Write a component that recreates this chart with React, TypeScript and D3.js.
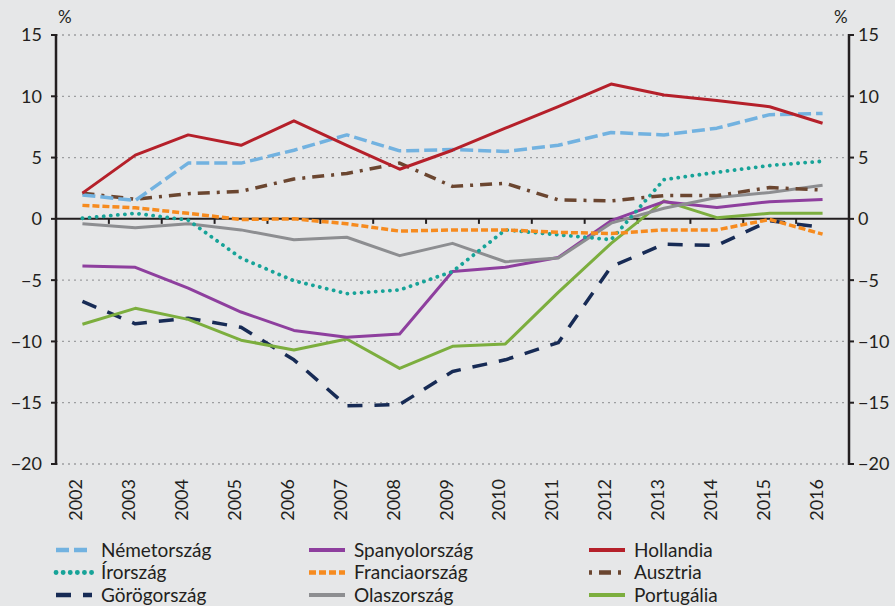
import * as d3 from 'd3';
import { useEffect } from 'react';

const years = ['2002', '2003', '2004', '2005', '2006', '2007', '2008', '2009', '2010', '2011', '2012', '2013', '2014', '2015', '2016'];
const yTicks = [15, 10, 5, 0, -5, -10, -15, -20];

const nemetorszag = [1.95, 1.5, 4.55, 4.55, 5.6, 6.85, 5.55, 5.65, 5.5, 6.0, 7.05, 6.85, 7.4, 8.5, 8.6];
const spanyolorszag = [-3.85, -3.95, -5.65, -7.6, -9.1, -9.65, -9.4, -4.3, -3.95, -3.15, -0.15, 1.4, 0.92, 1.4, 1.57];
const hollandia = [2.1, 5.2, 6.85, 6.0, 8.0, 6.0, 4.05, 5.6, 7.4, 9.15, 11.0, 10.1, 9.65, 9.15, 7.8];
const irorszag = [0.05, 0.45, -0.1, -3.2, -5.05, -6.1, -5.8, -4.3, -0.9, -1.3, -1.7, 3.2, 3.8, 4.35, 4.7];
const franciaorszag = [1.1, 0.9, 0.45, -0.05, 0, -0.4, -1.0, -0.9, -0.9, -1.1, -1.2, -0.9, -0.9, -0.05, -1.25];
const ausztria = [2.1, 1.6, 2.05, 2.25, 3.25, 3.7, 4.55, 2.65, 2.9, 1.55, 1.47, 1.9, 1.9, 2.55, 2.35];
const gorogorszag = [-6.74, -8.56, -8.1, -8.85, -11.5, -15.25, -15.15, -12.45, -11.5, -10.1, -3.9, -2.07, -2.17, -0.15, -0.7];
const olaszorszag = [-0.4, -0.73, -0.4, -0.9, -1.7, -1.5, -3.0, -2.0, -3.5, -3.2, -0.35, 0.87, 1.75, 2.15, 2.75];
const portugalia = [-8.6, -7.3, -8.2, -9.9, -10.7, -9.8, -12.2, -10.4, -10.2, -6.0, -2.0, 1.47, 0.1, 0.45, 0.45];

interface Series {
    name: string;
    values: number[];
    color: string;
    dash: string;
    width: number;
    cap: 'butt' | 'round';
    legendOffset?: number;
}

// legend order is row by row, 3 columns
const series: Series[] = [
    { name: 'Németország', values: nemetorszag, color: '#72b2e0', dash: '13 5', width: 3.5, cap: 'butt' },
    { name: 'Spanyolország', values: spanyolorszag, color: '#8e3f9e', dash: '', width: 3, cap: 'butt' },
    { name: 'Hollandia', values: hollandia, color: '#b5202a', dash: '', width: 3, cap: 'butt' },
    { name: 'Írország', values: irorszag, color: '#17a398', dash: '0.1 7', width: 3.8, cap: 'round' },
    { name: 'Franciaország', values: franciaorszag, color: '#f68b1f', dash: '7 3', width: 3.5, cap: 'butt' },
    { name: 'Ausztria', values: ausztria, color: '#6b4630', dash: '12 7 3 7', width: 3.5, cap: 'butt', legendOffset: 19 },
    { name: 'Görögország', values: gorogorszag, color: '#172b55', dash: '15 12', width: 3.5, cap: 'butt' },
    { name: 'Olaszország', values: olaszorszag, color: '#8d8e91', dash: '', width: 3, cap: 'butt' },
    { name: 'Portugália', values: portugalia, color: '#7cae3e', dash: '', width: 3, cap: 'butt' },
];

// draw order (back to front)
const drawOrder = ['Görögország', 'Portugália', 'Spanyolország', 'Olaszország', 'Írország', 'Franciaország', 'Ausztria', 'Németország', 'Hollandia'];

export default function App() {
    const width = 895;
    const height = 606;
    const margins = { left: 56, right: 46, top: 35, bottom: 142 };
    const font = "Lato, 'Open Sans', sans-serif";
    const ink = '#231f20';

    useEffect(() => {
        document.body.style.margin = '0';
    }, []);

    const xScale = d3
        .scaleBand()
        .domain(years)
        .range([margins.left, width - margins.right]);

    const yScale = d3
        .scaleLinear()
        .domain([-20, 15])
        .range([height - margins.bottom, margins.top]);

    const cx = (i: number) => (xScale(years[i]) as number) + xScale.bandwidth() / 2;

    const line = d3
        .line<number>()
        .x((_, i) => cx(i))
        .y((d) => yScale(d));

    const x0 = margins.left;
    const x1 = width - margins.right;

    return (
        <svg width={width} height={height} viewBox={`0 0 ${width} ${height}`} style={{ display: 'block', fontFamily: font }}>
            <rect x={0} y={0} width={width} height={height} fill='#e6e7e8' />

            {/* grid */}
            {yTicks
                .filter((t) => t !== 0)
                .map((t) => (
                    <line key={t} x1={x0} x2={x1} y1={yScale(t)} y2={yScale(t)} stroke='#9d9ea0' strokeWidth={1.3} strokeDasharray='2,4' />
                ))}

            {/* x category ticks on zero line */}
            {years.slice(1).map((yr) => (
                <line key={yr} x1={xScale(yr) as number} x2={xScale(yr) as number} y1={yScale(0)} y2={yScale(0) + 5} stroke={ink} strokeWidth={2} />
            ))}
            <line x1={x0} x2={x1} y1={yScale(0)} y2={yScale(0)} stroke={ink} strokeWidth={2} />

            {/* series */}
            {drawOrder.map((n) => {
                const s = series.find((d) => d.name === n) as Series;
                return (
                    <path
                        key={n}
                        d={line(s.values) as string}
                        fill='none'
                        stroke={s.color}
                        strokeWidth={s.width}
                        strokeDasharray={s.dash || undefined}
                        strokeLinecap={s.cap}
                        strokeLinejoin='round'
                    />
                );
            })}

            {/* left axis */}
            <line x1={x0} x2={x0} y1={yScale(15) - 1} y2={yScale(-20) + 1} stroke={ink} strokeWidth={2.5} />
            {yTicks.map((t) => (
                <g key={t} transform={`translate(${x0}, ${yScale(t)})`}>
                    <line x1={-5} x2={0} stroke={ink} strokeWidth={2} />
                    <text x={-14} dy='0.36em' textAnchor='end' fontSize={18} fill={ink}>
                        {t < 0 ? `\u2212${-t}` : t}
                    </text>
                </g>
            ))}
            <text x={58} y={23} fontSize={17} fill={ink}>
                %
            </text>

            {/* right axis */}
            <line x1={x1} x2={x1} y1={yScale(15) - 1} y2={yScale(-20) + 1} stroke={ink} strokeWidth={2.5} />
            {yTicks.map((t) => (
                <g key={t} transform={`translate(${x1}, ${yScale(t)})`}>
                    <line x1={0} x2={5} stroke={ink} strokeWidth={2} />
                    <text x={9} dy='0.36em' textAnchor='start' fontSize={18} fill={ink}>
                        {t < 0 ? `\u2212${-t}` : t}
                    </text>
                </g>
            ))}
            <text x={834} y={23} fontSize={17} fill={ink}>
                %
            </text>

            {/* x labels */}
            {years.map((yr, i) => (
                <text key={yr} transform={`translate(${cx(i)}, 479) rotate(-90)`} textAnchor='end' fontSize={18} fill={ink}>
                    {yr}
                </text>
            ))}

            {/* legend */}
            {series.map((s, i) => {
                const col = i % 3;
                const row = Math.floor(i / 3);
                const lx = [56, 309, 589][col];
                const ly = 550 + row * 22.5;
                return (
                    <g key={s.name} transform={`translate(${lx}, ${ly})`}>
                        <line
                            x1={0}
                            x2={36}
                            stroke={s.color}
                            strokeWidth={s.width + 1}
                            strokeDasharray={s.dash || undefined}
                            strokeDashoffset={s.legendOffset || 0}
                            strokeLinecap={s.cap}
                        />
                        <text x={45} dy='0.36em' fontSize={19} fill={ink}>
                            {s.name}
                        </text>
                    </g>
                );
            })}
        </svg>
    );
}
